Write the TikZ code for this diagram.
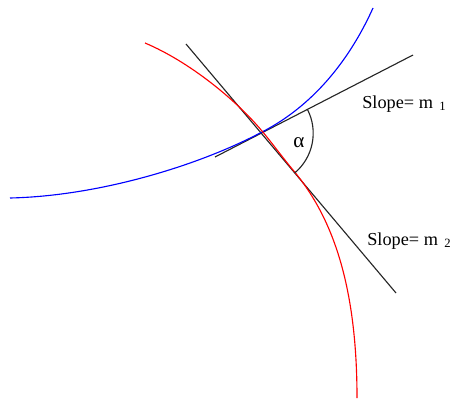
\documentclass[tikz,border=0pt]{standalone}
\usepackage{fontspec}
\setmainfont{Liberation Serif}
\begin{document}
\begin{tikzpicture}[x={(0.025cm,0)},y={(0,-0.025cm)},
  curve/.style={line width=0.8pt},
  tangent/.style={line width=0.8pt,draw=black!85},
  lbl/.style={inner sep=0pt,font=\fontsize{13}{15}\selectfont}]
\useasboundingbox (0,0) rectangle (452,401);
% tangent lines
\coordinate (a1) at (215,157);
\coordinate (b1) at (413,55);
\coordinate (a2) at (186,44);
\coordinate (b2) at (396,293);
\coordinate (c) at (261.2,133.2);
\draw[tangent] (a1) -- (b1);
\draw[tangent] (a2) -- (b2);
% blue curve
\draw[curve,blue] (10,198) .. controls (100,196) and (200,165) .. (262,132)
  .. controls (305,110) and (345,70) .. (373,8);
% red curve
\draw[curve,red] (145,43) .. controls (190,62) and (236,100) .. (262,131)
  .. controls (272,143) and (283,158) .. (293,170)
  .. controls (330,214) and (357,280) .. (357,398);
% angle arc
\draw[tangent] (c) ++(27.3:{52*0.025cm}) arc[start angle=27.3,end angle=-49.9,radius={52*0.025cm}];
\node[lbl,font=\fontsize{15}{17}\selectfont] (alpha) at (299,143) {α};
\node[lbl,anchor=base west] (s1) at (362,108) {Slope= m\hspace{0.35em}\raisebox{-0.35ex}{\fontsize{9}{10}\selectfont 1}};
\node[lbl,anchor=base west] (s2) at (367,245) {Slope= m\hspace{0.35em}\raisebox{-0.35ex}{\fontsize{9}{10}\selectfont 2}};
\end{tikzpicture}
\end{document}
